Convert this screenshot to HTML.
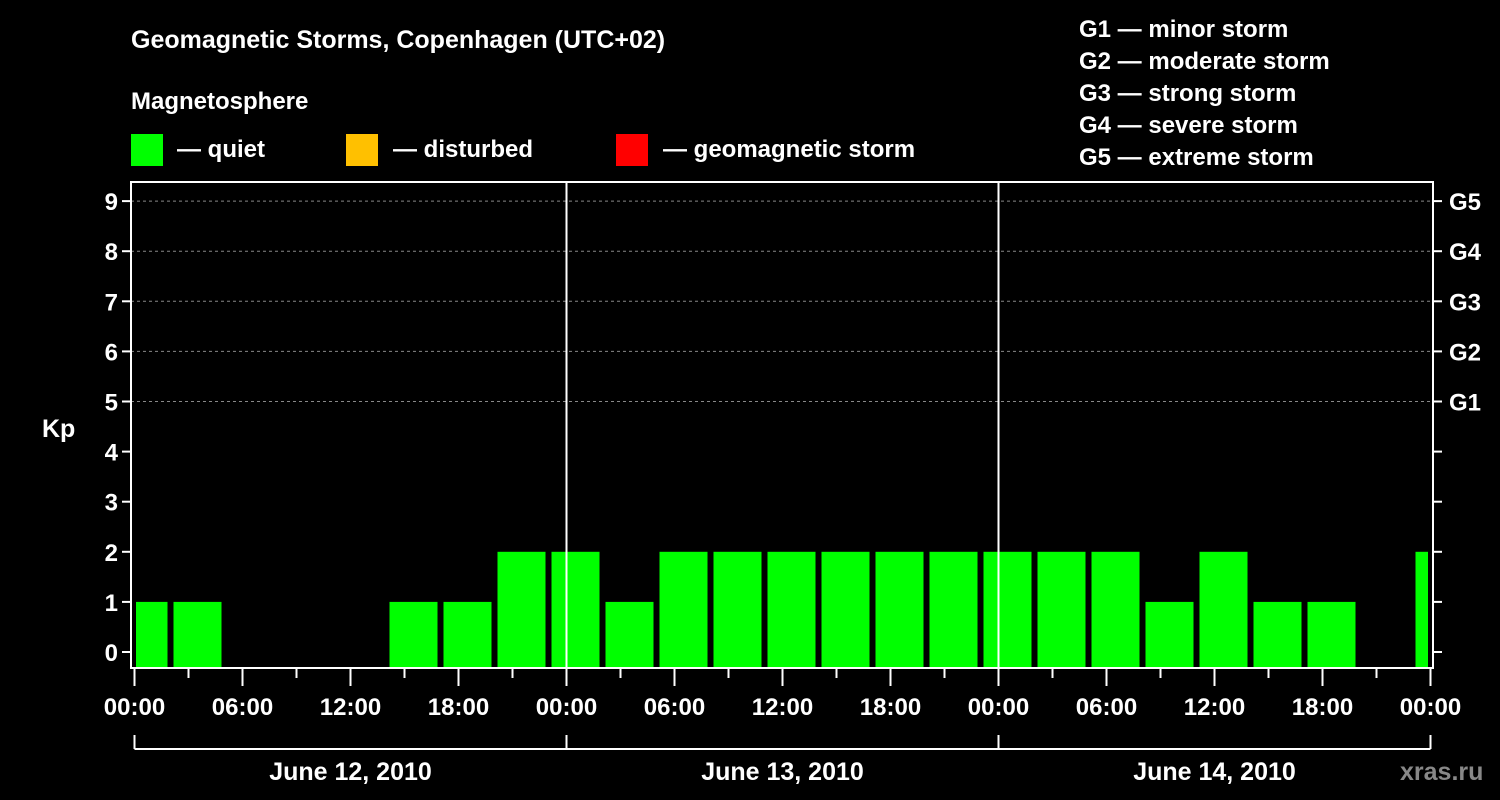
<!DOCTYPE html>
<html><head><meta charset="utf-8"><style>
html,body{margin:0;padding:0;background:#000;width:1500px;height:800px;overflow:hidden}
svg{display:block;font-family:"Liberation Sans",Arial,sans-serif;font-weight:bold}
</style></head><body>
<svg id="chart" width="1500" height="800" viewBox="0 0 1500 800">
<text x="131" y="48" fill="#fff" font-size="25">Geomagnetic Storms, Copenhagen (UTC+02)</text>
<text x="131" y="109" fill="#fff" font-size="24">Magnetosphere</text>
<g>
<rect x="131" y="134" width="32" height="32" fill="#00ff00"/>
<text x="177" y="157" fill="#fff" font-size="24">— quiet</text>
<rect x="346" y="134" width="32" height="32" fill="#ffc000"/>
<text x="393" y="157" fill="#fff" font-size="24">— disturbed</text>
<rect x="616" y="134" width="32" height="32" fill="#ff0000"/>
<text x="663" y="157" fill="#fff" font-size="24">— geomagnetic storm</text>
</g>
<g fill="#fff" font-size="24">
<text x="1079" y="37">G1 — minor storm</text>
<text x="1079" y="69">G2 — moderate storm</text>
<text x="1079" y="101">G3 — strong storm</text>
<text x="1079" y="133">G4 — severe storm</text>
<text x="1079" y="165">G5 — extreme storm</text>
</g>
<text x="42" y="437" fill="#fff" font-size="25">Kp</text>
<text x="1400" y="780" fill="#888" font-size="25">xras.ru</text>
<g id="grid"></g><g id="bars"></g><g id="axes"></g>
</svg>
<script>
const kpValues=[1,1,0,0,0,1,1,2,2,1,2,2,2,2,2,2,2,2,2,1,2,1,1,0,2];
const barStartHours=[-1,2,5,8,11,14,17,20,23,26,29,32,35,38,41,44,47,50,53,56,59,62,65,68,71];
const kpTicks=[0,1,2,3,4,5,6,7,8,9];
const gLabels=["","","","","","G1","G2","G3","G4","G5"];
const timeLabels=["00:00","06:00","12:00","18:00","00:00","06:00","12:00","18:00","00:00","06:00","12:00","18:00","00:00"];
const dayLabels=["June 12, 2010","June 13, 2010","June 14, 2010"];
const NS="http://www.w3.org/2000/svg";
const X0=134.5,PXH=18,LEFT=131,RIGHT=1433,TOP=182,BOT=668;
const xs=h=>X0+h*PXH;
const ys=v=>652-v*50.1;
function mk(tag,attrs,parent,txt){const e=document.createElementNS(NS,tag);for(const k in attrs)e.setAttribute(k,attrs[k]);if(txt!==undefined)e.textContent=txt;document.getElementById(parent).appendChild(e);return e;}
kpTicks.forEach((v,i)=>{
 if(v>=5){const g=mk('line',{x1:LEFT,x2:RIGHT,y1:ys(v),y2:ys(v),stroke:'#888','stroke-dasharray':'3,3','stroke-width':1},'grid');
 
 }
 const t=mk('line',{x1:LEFT-9,x2:LEFT,y1:ys(v),y2:ys(v),stroke:'#fff','stroke-width':2},'axes');
 
 
 const l=mk('text',{x:LEFT-13,y:ys(v)+9,fill:'#fff','font-size':24,'text-anchor':'end'},'axes',String(v));
 
 
 const r=mk('line',{x1:RIGHT,x2:RIGHT+9,y1:ys(v),y2:ys(v),stroke:'#fff','stroke-width':2},'axes');
 
 
 if(gLabels[i]){const g=mk('text',{x:1449,y:ys(v)+9,fill:'#fff','font-size':24},'axes',gLabels[i]);
 
 }
});
kpValues.forEach((v,i)=>{
 if(v<=0)return;
 let x1=Math.max(xs(barStartHours[i])+3,LEFT+5),x2=Math.min(xs(barStartHours[i]+3)-3,RIGHT-5);
 const b=mk('rect',{x:x1,y:ys(v),width:x2-x1,height:BOT-ys(v),fill:v>=5?'#ff0000':(v>=4?'#ffc000':'#00ff00')},'bars');
 
 
});
[1,2].forEach(d=>{const l=mk('line',{x1:xs(24*d),x2:xs(24*d),y1:TOP,y2:BOT,stroke:'#fff','stroke-width':2},'axes');
 
 });
const f=mk('rect',{x:LEFT,y:TOP,width:RIGHT-LEFT,height:BOT-TOP,fill:'none',stroke:'#fff','stroke-width':2},'axes');


for(let h=0;h<=72;h+=3){const maj=h%6===0;
 const t=mk('line',{x1:xs(h),x2:xs(h),y1:BOT,y2:maj?686:678,stroke:'#fff','stroke-width':2},'axes');
 
 }
timeLabels.forEach((s,i)=>{const t=mk('text',{x:xs(i*6),y:715,fill:'#fff','font-size':24,'text-anchor':'middle'},'axes',s);
 
 });
mk('line',{x1:xs(0),x2:xs(72),y1:749,y2:749,stroke:'#fff','stroke-width':2},'axes');
for(let d=0;d<=3;d++){const b=mk('line',{x1:xs(24*d),x2:xs(24*d),y1:735,y2:749,stroke:'#fff','stroke-width':2},'axes');
 
 }
dayLabels.forEach((s,i)=>{const t=mk('text',{x:xs(24*i+12),y:780,fill:'#fff','font-size':25,'text-anchor':'middle'},'axes',s);
 
 });
</script>
</body></html>
